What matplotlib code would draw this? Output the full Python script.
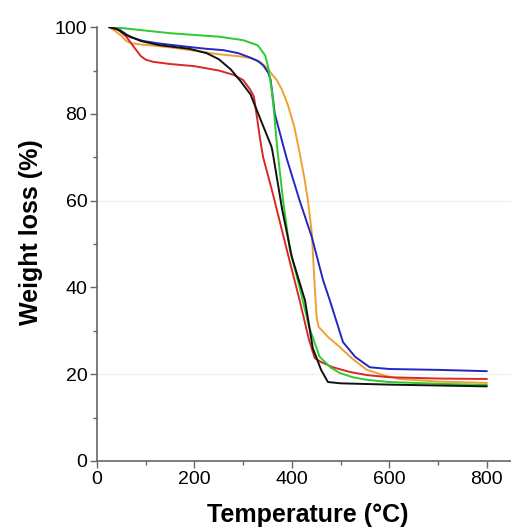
import matplotlib.pyplot as plt
from matplotlib.ticker import MultipleLocator

plt.rcParams['font.family'] = ['Liberation Sans', 'DejaVu Sans']

# TGA curves
green_t = [25, 50, 100, 150, 200, 250, 300, 330, 345, 352, 358, 362, 370, 382, 396, 416, 435, 457, 480, 498, 525, 554, 600, 700, 800]
green_w = [100, 99.8, 99.2, 98.6, 98.2, 97.8, 97.0, 95.8, 93.5, 90.5, 86, 82, 72, 60, 48.6, 40, 31, 24, 21.5, 20.3, 19.3, 18.7, 18.2, 17.8, 17.5]

black_t = [25, 40, 60, 90, 125, 160, 190, 225, 250, 275, 295, 315, 340, 358, 360, 363, 380, 400, 427, 443, 460, 474, 500, 600, 700, 800]
black_w = [100, 99.6, 98.2, 96.8, 95.9, 95.4, 95.0, 94.0, 92.6, 90.2, 87.5, 84.5, 77.5, 72.5, 71.5, 69.5, 58, 47, 37, 26, 21, 18.2, 17.9, 17.6, 17.4, 17.2]

red_t = [25, 45, 60, 75, 90, 100, 115, 150, 200, 250, 280, 300, 315, 322, 326, 335, 341, 360, 390, 416, 435, 447, 460, 484, 520, 554, 600, 700, 800]
red_w = [100, 99.3, 97.8, 95.5, 93.3, 92.5, 92.0, 91.5, 91.0, 90.0, 89.0, 87.8, 85.5, 84, 81, 74, 70, 62, 48.5, 37, 28, 23.7, 22.8, 21.6, 20.5, 19.8, 19.3, 19.0, 18.9]

blue_t = [25, 45, 68, 95, 123, 160, 191, 225, 259, 290, 314, 330, 341, 351, 356, 359, 365, 382, 390, 416, 441, 464, 478, 505, 530, 560, 600, 700, 800]
blue_w = [100, 99.5, 97.7, 96.8, 96.3, 95.8, 95.4, 95.0, 94.7, 94.0, 93.0, 92.2, 91.2, 89.6, 88, 85.5, 80, 72.8, 69.5, 60, 51.6, 41.7, 37, 27.4, 24, 21.6, 21.2, 21.0, 20.7]

orange_t = [25, 35, 50, 60, 70, 90, 120, 160, 191, 246, 290, 314, 335, 349, 360, 369, 380, 392, 405, 416, 426, 433, 441, 447, 451, 455, 475, 498, 525, 554, 590, 621, 700, 800]
orange_w = [100, 99.3, 98, 96.8, 96.3, 96.0, 95.7, 95.2, 94.7, 93.8, 93.3, 92.9, 92.0, 90.6, 89, 87.8, 85.5, 82, 77, 71, 65, 60, 52.5, 40, 33, 30.9, 28.5, 26.3, 23.5, 21, 19.7, 18.9, 18.3, 18.0]

fig = plt.figure(figsize=(5.11, 5.32), dpi=100)
ax = fig.add_axes([0.19, 0.1335, 0.81, 0.8155])

for y in (20, 60):
    ax.axhline(y, color='#f0f0f0', lw=1, zorder=0)

ax.plot(orange_t, orange_w, color='#f0a030', lw=1.4)
ax.plot(blue_t, blue_w, color='#2228c0', lw=1.4)
ax.plot(red_t, red_w, color='#d82828', lw=1.4)
ax.plot(green_t, green_w, color='#2ccc2c', lw=1.4)
ax.plot(black_t, black_w, color='#111111', lw=1.4)

ax.set_xlim(0, 850)
ax.set_ylim(0, 100)
ax.set_xticks([0, 200, 400, 600, 800])
ax.set_yticks([0, 20, 40, 60, 80, 100])
ax.xaxis.set_minor_locator(MultipleLocator(100))
ax.yaxis.set_minor_locator(MultipleLocator(10))

for side in ('top', 'right'):
    ax.spines[side].set_visible(False)
for side in ('left', 'bottom'):
    ax.spines[side].set_color('#666666')
    ax.spines[side].set_linewidth(1.2)

ax.tick_params(which='major', direction='out', length=5, width=1, color='#666666', labelsize=14, pad=2)
ax.tick_params(which='minor', direction='out', length=3, width=1, color='#666666')

ax.set_xlabel('Temperature (°C)', fontsize=18, fontweight='bold')
ax.set_ylabel('Weight loss (%)', fontsize=18, fontweight='bold')
ax.xaxis.set_label_coords(0.51, -0.098)
ax.yaxis.set_label_coords(-0.13, 0.528)

fig.savefig('out.png', dpi=100)
